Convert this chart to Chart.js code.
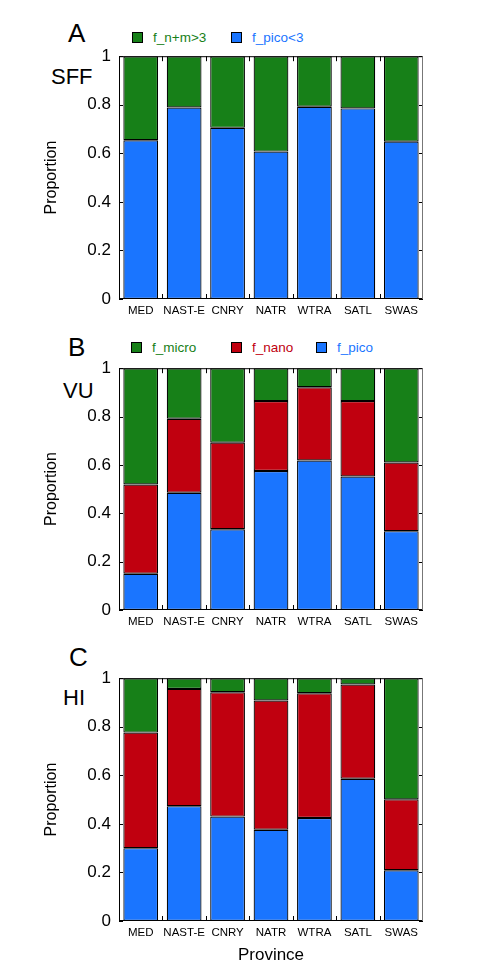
<!DOCTYPE html>
<html>
<head>
<meta charset="utf-8">
<script src="https://cdn.jsdelivr.net/npm/chart.js@4/dist/chart.umd.min.js"></script>
<style>
  html,body{margin:0;padding:0;background:#fff;}
  body{width:478px;height:970px;position:relative;overflow:hidden;font-family:"Liberation Sans",Arial,sans-serif;}
  canvas{position:absolute;left:0;}
  .t{position:absolute;line-height:1;color:#000;white-space:nowrap;}
  .big{font-size:26px;}
  .lab{font-size:22px;}
  .leg{position:absolute;height:12px;display:flex;align-items:center;font-size:13.5px;white-space:nowrap;}
  .leg i{display:inline-block;width:9px;height:9px;border:1.5px solid #000;margin-right:10px;}
</style>
</head>
<body>
<div class="t big" style="left:68px;top:20px;">A</div>
<div class="t lab" style="left:51px;top:66px;">SFF</div>
<div class="leg" style="left:132px;top:31px;color:#178018;"><i style="background:#178018"></i>f_n+m&gt;3</div>
<div class="leg" style="left:231px;top:31px;color:#1a75ff;"><i style="background:#1a75ff"></i>f_pico&lt;3</div>

<div class="t big" style="left:68px;top:334px;">B</div>
<div class="t lab" style="left:63px;top:380px;">VU</div>
<div class="leg" style="left:131px;top:341px;color:#178018;"><i style="background:#178018"></i>f_micro</div>
<div class="leg" style="left:231px;top:341px;color:#c0000f;"><i style="background:#c0000f"></i>f_nano</div>
<div class="leg" style="left:316px;top:341px;color:#1a75ff;"><i style="background:#1a75ff"></i>f_pico</div>

<div class="t big" style="left:69px;top:644px;">C</div>
<div class="t lab" style="left:63px;top:687px;">HI</div>

<canvas id="chartA" width="478" height="291" style="top:38px"></canvas>
<canvas id="chartB" width="478" height="290" style="top:350px"></canvas>
<canvas id="chartC" width="478" height="306" style="top:660px"></canvas>

<script>
// provinces
const provinces = ["MED","NAST-E","CNRY","NATR","WTRA","SATL","SWAS"];
const yTicks = [0,0.2,0.4,0.6,0.8,1];

// A: SFF
const sffPico = [0.654,0.789,0.705,0.607,0.792,0.785,0.648];
const sffNanoMicro = [0.346,0.211,0.295,0.393,0.208,0.215,0.352];
// B: VU
const vuPico = [0.150,0.485,0.334,0.575,0.618,0.552,0.326];
const vuNano = [0.369,0.306,0.358,0.289,0.303,0.312,0.284];
const vuMicro = [0.481,0.209,0.308,0.136,0.079,0.136,0.390];
// C: HI
const hiPico = [0.300,0.473,0.430,0.376,0.424,0.586,0.209];
const hiNano = [0.476,0.483,0.512,0.532,0.514,0.388,0.292];
const hiMicro = [0.224,0.044,0.058,0.092,0.062,0.026,0.499];

const GREEN="#178018", RED="#c0000f", BLUE="#1a75ff";
const FONT='"Liberation Sans", Arial, sans-serif';

// frame + inward tick marks, like the original plot
const framePlugin = {
  id:"frame",
  afterDatasetsDraw(chart){
    const a=chart.chartArea, c=chart.ctx, xs=chart.scales.x, ys=chart.scales.y;
    c.save();
    c.lineWidth=1;
    c.strokeStyle="#000";
    c.beginPath();
    c.moveTo(a.left+0.5,a.bottom);c.lineTo(a.left+0.5,a.top+0.5);c.lineTo(a.right,a.top+0.5);
    c.moveTo(a.left,a.bottom-0.5);c.lineTo(a.right,a.bottom-0.5);
    yTicks.forEach(function(v){
      const y=Math.round(ys.getPixelForValue(v))+0.5;
      c.moveTo(a.left,y);c.lineTo(a.left+4,y);
      c.moveTo(a.right-4,y);c.lineTo(a.right,y);
    });
    for(let k=1;k<provinces.length;k++){
      const x=Math.round((xs.getPixelForValue(k-1)+xs.getPixelForValue(k))/2)+0.5;
      c.moveTo(x,a.bottom);c.lineTo(x,a.bottom-5);
      c.moveTo(x,a.top);c.lineTo(x,a.top+5);
    }
    c.stroke();
    c.strokeStyle="#777";
    c.beginPath();c.moveTo(a.right-0.5,a.top);c.lineTo(a.right-0.5,a.bottom);c.stroke();
    c.restore();
  }
};

function ds(label,data,color){
  return {label:label,data:data,backgroundColor:color,borderColor:"#000",borderWidth:1.2,borderSkipped:false,
    barPercentage:0.8,categoryPercentage:1};
}

function makeChart(id,datasets,xAxisH,showTitle){
  return new Chart(document.getElementById(id),{
    type:"bar",
    data:{labels:provinces,datasets:datasets},
    plugins:[framePlugin],
    options:{
      responsive:false,animation:false,
      layout:{padding:{top:0,left:42,right:55,bottom:0}},
      plugins:{legend:{display:false},tooltip:{enabled:false}},
      scales:{
        x:{stacked:true,grid:{display:false,drawTicks:false},border:{display:false},
          ticks:{color:"#000",font:{family:FONT,size:11.5},padding:5,maxRotation:0,autoSkip:false},
          title:{display:showTitle,text:"Province",color:"#000",font:{family:FONT,size:17},padding:0},
          afterFit:function(s){s.height=xAxisH;}},
        y:{stacked:true,min:0,max:1,grid:{display:false,drawTicks:false},border:{display:false},
          afterBuildTicks:function(s){s.ticks=yTicks.map(function(v){return {value:v};});},
          ticks:{color:"#000",font:{family:FONT,size:17},padding:8,callback:function(v){return String(+v.toFixed(1));}},
          title:{display:true,text:"Proportion",color:"#000",font:{family:FONT,size:16},padding:0},
          afterFit:function(s){s.width=77;}}
      }
    }
  });
}

makeChart("chartA",[ds("f_pico<3",sffPico,BLUE),ds("f_n+m>3",sffNanoMicro,GREEN)],30,false);
makeChart("chartB",[ds("f_pico",vuPico,BLUE),ds("f_nano",vuNano,RED),ds("f_micro",vuMicro,GREEN)],30,false);
makeChart("chartC",[ds("f_pico",hiPico,BLUE),ds("f_nano",hiNano,RED),ds("f_micro",hiMicro,GREEN)],45,true);
</script>
</body>
</html>
